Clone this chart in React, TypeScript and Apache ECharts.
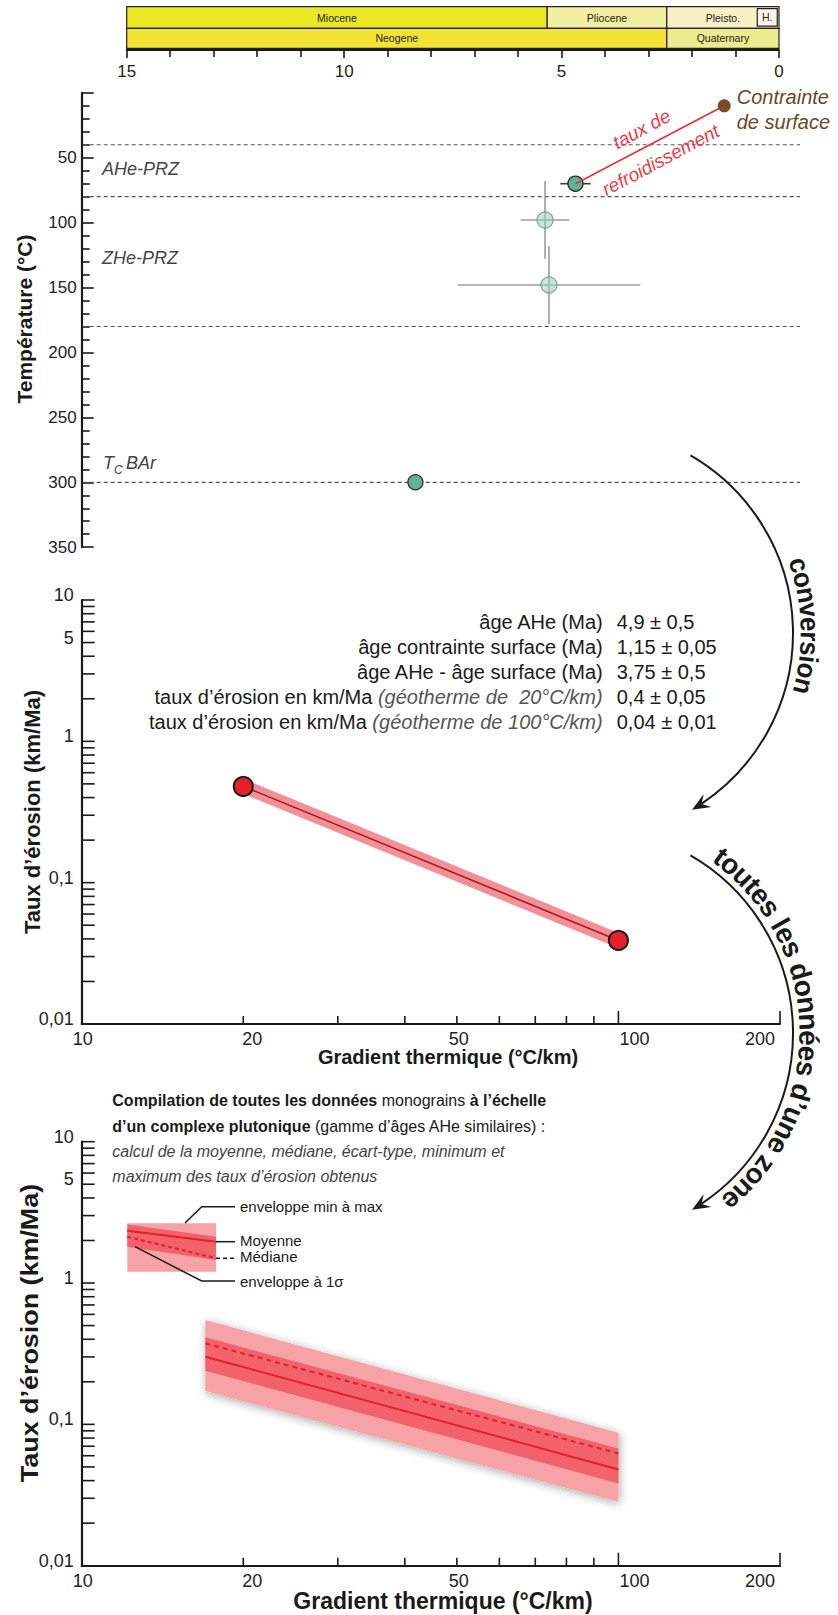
import React, { useEffect, useRef } from 'react';
import * as echarts from 'echarts';

const FONT = '"Liberation Sans", Arial, Helvetica, sans-serif';
const INK = '#1a1a1a';

// ---------- geological timescale (Ma) ----------
const epochNames = ['Miocene', 'Pliocene', 'Pleisto.'];
const epochStarts = [15, 5.33, 2.58];
const epochEnds = [5.33, 2.58, 0];
const periodNames = ['Neogene', 'Quaternary'];
const periodStarts = [15, 2.58];
const periodEnds = [2.58, 0];
const holoceneName = 'H.';
const holoceneStart = 0.5;
const holoceneEnd = 0.04;

// ---------- thermochronology (top panel) ----------
const zoneBoundaries = [40, 80, 180, 300];
const sampleAges = [4.68, 5.38, 5.29, 8.36];
const sampleTemps = [70, 98, 148, 300];
const sampleAgeErr = [0.35, 0.56, 2.1, 0];
const sampleTempErr = [0, 30, 30, 0];
const surfaceAge = 1.26;
const surfaceTemp = 10;

// ---------- single sample conversion (middle panel) ----------
const gradients = [20, 100];
const erosionRates = [0.48, 0.039];
const tableLabels = ['âge AHe (Ma)', 'âge contrainte surface (Ma)', 'âge AHe - âge surface (Ma)', 'taux d’érosion en km/Ma', 'taux d’érosion en km/Ma'];
const tableNotes = ['', '', '', '(géotherme de  20°C/km)', '(géotherme de 100°C/km)'];
const tableValues = ['4,9 ± 0,5', '1,15 ± 0,05', '3,75 ± 0,5', '0,4 ± 0,05', '0,04 ± 0,01'];

// ---------- compilation (bottom panel) ----------
const envGradients = [17, 100];
const minRates = [0.172, 0.0283];
const maxRates = [0.547, 0.0872];
const sigmaLowRates = [0.2395, 0.0382];
const sigmaHighRates = [0.413, 0.0676];
const meanRates = [0.301, 0.048];
const medianRates = [0.374, 0.0623];

// ---------- axes ----------
const ageMin = 0, ageMax = 15, ageStep = 5;
const tempMin = 0, tempMax = 350, tempStep = 50;
const gradientMin = 10, gradientMax = 200;
const rateMin = 0.01, rateMax = 10;
const gradientTicksShort = [20, 30, 40, 50, 60, 70, 80, 90];
const gradientTicksLong = [100, 200];
const gradientTickLabels = [10, 20, 50, 100, 200];
const rateTicks = [0.02, 0.03, 0.04, 0.05, 0.06, 0.07, 0.08, 0.09, 0.1, 0.2, 0.3, 0.4, 0.5, 0.6, 0.7, 0.8, 0.9, 1, 2, 3, 4, 5, 6, 7, 8, 9, 10];
const rateTickLabels = [0.01, 0.1, 1, 5, 10];

// ---------- styles ----------
const GRADIENT_LABEL_SHIFT: Record<number, number> = { 10: 1, 20: 9, 50: 2, 100: 16, 200: -20 };
const EPOCH_COLORS = ['#ebe723', '#f3efa2', '#fbf0c4'];
const PERIOD_COLORS = ['#f5e334', '#eeea8e'];
const HOLO_COLOR = '#fdf6e8';
const SAMPLE_FILL = ['#5db394', 'rgba(150,210,185,0.55)', 'rgba(150,210,185,0.55)', '#5db394'];
const SAMPLE_STROKE = ['#2b2b2b', 'rgba(120,150,135,0.8)', 'rgba(120,150,135,0.8)', '#2b2b2b'];
const ERR_COLOR = ['#3a3a3a', '#9c9c9c', '#9c9c9c', '#3a3a3a'];

const fmtRate = (v: number) => String(v).replace('.', ',');

function logTickSeries(idx: number, labelSize: number) {
  const xVals = [gradientMin, ...gradientTicksShort, ...gradientTicksLong];
  const yVals = [rateMin, ...rateTicks];
  return [
    {
      type: 'custom', xAxisIndex: idx, yAxisIndex: idx, silent: true, z: 10,
      data: xVals.map(v => [v, rateMin]),
      encode: { x: 0, y: 1 },
      renderItem: (params: any, api: any) => {
        const v = api.value(0);
        const p = api.coord([v, rateMin]);
        const children: any[] = [];
        const len = gradientTicksLong.includes(v) ? 13 : gradientTicksShort.includes(v) ? 8 : 0;
        if (len) children.push({ type: 'line', shape: { x1: p[0], y1: p[1], x2: p[0], y2: p[1] - len }, style: { stroke: INK, lineWidth: 1.6 } });
        if (gradientTickLabels.includes(v)) children.push({ type: 'text', x: p[0] + (GRADIENT_LABEL_SHIFT[v] || 0), y: p[1] + 15, style: { text: String(v), fill: '#222', fontSize: labelSize, fontFamily: FONT, align: 'center', verticalAlign: 'middle' } });
        return { type: 'group', children };
      },
    },
    {
      type: 'custom', xAxisIndex: idx, yAxisIndex: idx, silent: true, z: 10,
      data: yVals.map(v => [gradientMin, v]),
      encode: { x: 0, y: 1 },
      renderItem: (params: any, api: any) => {
        const v = api.value(1);
        const p = api.coord([gradientMin, v]);
        const children: any[] = [];
        if (v !== rateMin) children.push({ type: 'line', shape: { x1: p[0], y1: p[1], x2: p[0] + 13, y2: p[1] }, style: { stroke: INK, lineWidth: 1.6 } });
        if (rateTickLabels.includes(v)) children.push({ type: 'text', x: p[0] - 8, y: p[1] - 5, style: { text: fmtRate(v), fill: '#222', fontSize: labelSize, fontFamily: FONT, align: 'right', verticalAlign: 'middle' } });
        return { type: 'group', children };
      },
    },
  ];
}

function logAxis(idx: number, min: number, max: number) {
  return {
    gridIndex: idx, type: 'log', logBase: 10, min, max,
    axisLine: { show: true, onZero: false, lineStyle: { color: INK, width: 2.2 } },
    axisTick: { show: false }, axisLabel: { show: false }, splitLine: { show: false },
  };
}

function arcText(text: string, cx: number, cy: number, r: number, centerDeg: number, fontSize: number, scaleX: number) {
  const ctx = document.createElement('canvas').getContext('2d')!;
  ctx.font = `bold ${fontSize}px "Liberation Sans", Arial, sans-serif`;
  const chars = Array.from(text);
  const widths = chars.map(ch => ctx.measureText(ch).width * scaleX);
  const total = widths.reduce((a, b) => a + b, 0);
  let th = (centerDeg * Math.PI) / 180 - total / 2 / r;
  return chars.map((ch, i) => {
    const mid = th + widths[i] / 2 / r;
    th += widths[i] / r;
    return {
      type: 'text', z: 60, x: cx + r * Math.cos(mid), y: cy + r * Math.sin(mid),
      rotation: -(mid + Math.PI / 2), scaleX,
      style: { text: ch, fontSize, fontWeight: 'bold', fontFamily: FONT, fill: INK, align: 'center', verticalAlign: 'middle' },
    };
  });
}

function arrowArc(cx: number, cy: number, r: number, startDeg: number, tipDeg: number) {
  const th = (tipDeg * Math.PI) / 180;
  const tip = [cx + r * Math.cos(th), cy + r * Math.sin(th)];
  const d = [-Math.sin(th), Math.cos(th)];
  const n = [-d[1], d[0]];
  const L = 18, Wd = 7.5, notch = 11;
  const back = [tip[0] - L * d[0], tip[1] - L * d[1]];
  const pts = [
    tip,
    [back[0] + Wd * n[0], back[1] + Wd * n[1]],
    [tip[0] - notch * d[0], tip[1] - notch * d[1]],
    [back[0] - Wd * n[0], back[1] - Wd * n[1]],
  ];
  return [
    { type: 'arc', z: 60, shape: { cx, cy, r, startAngle: (startDeg * Math.PI) / 180, endAngle: th - notch / r, clockwise: true }, style: { stroke: INK, lineWidth: 2, fill: null } },
    { type: 'polygon', z: 60, shape: { points: pts }, style: { fill: INK } },
  ];
}

function txt(x: number, y: number, text: string, o: any = {}, extra: any = {}) {
  return { type: 'text', z: 50, x, y, ...extra, style: { text, fontFamily: FONT, fill: INK, fontSize: 16, align: 'left', verticalAlign: 'middle', ...o } };
}

function buildOption() {
  const cells = [
    ...epochNames.map((name, i) => ({ name, start: epochStarts[i], end: epochEnds[i], row: 0, color: EPOCH_COLORS[i] })),
    ...periodNames.map((name, i) => ({ name, start: periodStarts[i], end: periodEnds[i], row: 1, color: PERIOD_COLORS[i] })),
    { name: holoceneName, start: holoceneStart, end: holoceneEnd, row: 2, color: HOLO_COLOR },
  ];
  const ROWS = [{ y: 6.7, h: 21.6 }, { y: 28.3, h: 20 }, { y: 8.6, h: 17.6 }];

  const series: any[] = [
    {
      type: 'custom', xAxisIndex: 0, yAxisIndex: 0, silent: true, z: 3,
      data: cells.map(c => [c.start, c.end, tempMin]),
      encode: { x: [0, 1], y: 2 },
      renderItem: (params: any, api: any) => {
        const c = cells[params.dataIndex];
        const x0 = api.coord([api.value(0), tempMin])[0];
        const x1 = api.coord([api.value(1), tempMin])[0];
        const row = ROWS[c.row];
        return {
          type: 'group',
          children: [
            { type: 'rect', shape: { x: Math.min(x0, x1), y: row.y, width: Math.abs(x1 - x0), height: row.h }, style: { fill: c.color, stroke: '#222', lineWidth: 1.2 } },
            { type: 'text', x: (x0 + x1) / 2, y: row.y + row.h / 2, style: { text: c.name, fontSize: 10.5, fontFamily: FONT, fill: '#222', align: 'center', verticalAlign: 'middle' } },
          ],
        };
      },
    },
    {
      type: 'custom', xAxisIndex: 0, yAxisIndex: 0, silent: true, z: 2,
      data: zoneBoundaries.map(t => [ageMin, t]),
      encode: { x: 0, y: 1 },
      renderItem: (params: any, api: any) => {
        const y = api.coord([ageMin, api.value(1)])[1];
        const cs = params.coordSys;
        return { type: 'line', shape: { x1: cs.x - 44, y1: y, x2: cs.x + cs.width + 21, y2: y }, style: { stroke: '#555', lineWidth: 1.2, lineDash: [4, 3] } };
      },
    },
    {
      type: 'custom', xAxisIndex: 0, yAxisIndex: 0, silent: true, z: 3,
      data: sampleAges.map((a, i) => [a, sampleTemps[i], sampleAgeErr[i], sampleTempErr[i]]),
      encode: { x: 0, y: 1 },
      renderItem: (params: any, api: any) => {
        const a = api.value(0), t = api.value(1), ea = api.value(2), et = api.value(3);
        const stroke = ERR_COLOR[params.dataIndex];
        const children: any[] = [];
        if (ea > 0) {
          const p0 = api.coord([a - ea, t]), p1 = api.coord([a + ea, t]);
          children.push({ type: 'line', shape: { x1: p0[0], y1: p0[1], x2: p1[0], y2: p1[1] }, style: { stroke, lineWidth: 1.6 } });
        }
        if (et > 0) {
          const p0 = api.coord([a, t - et]), p1 = api.coord([a, t + et]);
          children.push({ type: 'line', shape: { x1: p0[0], y1: p0[1], x2: p1[0], y2: p1[1] }, style: { stroke, lineWidth: 1.6 } });
        }
        return { type: 'group', children };
      },
    },
    {
      type: 'scatter', xAxisIndex: 0, yAxisIndex: 0, silent: true, z: 4, symbol: 'circle',
      data: sampleAges.map((a, i) => ({
        value: [a, sampleTemps[i]], symbolSize: i === 1 || i === 2 ? 16 : 15,
        itemStyle: { color: SAMPLE_FILL[i], borderColor: SAMPLE_STROKE[i], borderWidth: 1.3, opacity: 1 },
      })),
    },
    {
      type: 'line', xAxisIndex: 0, yAxisIndex: 0, silent: true, z: 5, symbol: 'none',
      data: [[sampleAges[0], sampleTemps[0]], [surfaceAge, surfaceTemp]],
      lineStyle: { color: '#ec2d35', width: 1.6 },
    },
    {
      type: 'scatter', xAxisIndex: 0, yAxisIndex: 0, silent: true, z: 6, symbol: 'circle', symbolSize: 13,
      data: [[surfaceAge, surfaceTemp]], itemStyle: { color: '#7b4a26', opacity: 1 },
    },
    ...logTickSeries(1, 18),
    {
      type: 'line', xAxisIndex: 1, yAxisIndex: 1, silent: true, z: 3, symbol: 'none',
      data: gradients.map((g, i) => [g, erosionRates[i]]),
      lineStyle: { color: 'rgba(238,100,110,0.72)', width: 14, cap: 'butt' },
    },
    {
      type: 'line', xAxisIndex: 1, yAxisIndex: 1, silent: true, z: 4, symbol: 'none',
      data: gradients.map((g, i) => [g, erosionRates[i]]),
      lineStyle: { color: '#a8182a', width: 1.5 },
    },
    {
      type: 'scatter', xAxisIndex: 1, yAxisIndex: 1, silent: true, z: 5, symbol: 'circle', symbolSize: 19,
      data: gradients.map((g, i) => [g, erosionRates[i]]),
      itemStyle: { color: '#e5202a', borderColor: '#1c1c1c', borderWidth: 2, opacity: 1 },
    },
    ...logTickSeries(2, 18),
    {
      type: 'custom', xAxisIndex: 2, yAxisIndex: 2, silent: true, z: 2,
      data: [
        [envGradients[0], envGradients[1], minRates[0], maxRates[0], minRates[1], maxRates[1], 0],
        [envGradients[0], envGradients[1], sigmaLowRates[0], sigmaHighRates[0], sigmaLowRates[1], sigmaHighRates[1], 1],
      ],
      encode: { x: [0, 1], y: [2, 3, 4, 5] },
      renderItem: (params: any, api: any) => {
        const x0 = api.value(0), x1 = api.value(1);
        const pts = [api.coord([x0, api.value(3)]), api.coord([x1, api.value(5)]), api.coord([x1, api.value(4)]), api.coord([x0, api.value(2)])];
        const outer = api.value(6) === 0;
        return {
          type: 'polygon', shape: { points: pts },
          style: outer
            ? { fill: '#f7a2a6', shadowBlur: 10, shadowColor: 'rgba(0,0,0,0.35)', shadowOffsetX: 1, shadowOffsetY: 2 }
            : { fill: '#f1626b' },
        };
      },
    },
    {
      type: 'line', xAxisIndex: 2, yAxisIndex: 2, silent: true, z: 4, symbol: 'none',
      data: envGradients.map((g, i) => [g, meanRates[i]]),
      lineStyle: { color: '#e3202b', width: 2 },
    },
    {
      type: 'line', xAxisIndex: 2, yAxisIndex: 2, silent: true, z: 4, symbol: 'none',
      data: envGradients.map((g, i) => [g, medianRates[i]]),
      lineStyle: { color: '#e3202b', width: 2, type: [5, 4] },
    },
  ];

  const rotTitle = (x: number, y: number, text: string, size: number, scaleX = 1) =>
    ({ type: 'text', z: 50, x, y, rotation: Math.PI / 2, scaleX, style: { text, fontFamily: FONT, fontWeight: 'bold', fontSize: size, fill: INK, align: 'center', verticalAlign: 'middle' } });

  const italicGray = { fontStyle: 'italic', fill: '#444', fontSize: 18 };

  const graphic: any[] = [
    rotTitle(24, 319, 'Température (°C)', 21),
    rotTitle(32, 812, 'Taux d’érosion (km/Ma)', 22),
    rotTitle(30, 1333, 'Taux d’érosion (km/Ma)', 23, 1.17),
    txt(448, 1057, 'Gradient thermique (°C/km)', { fontWeight: 'bold', fontSize: 20, align: 'center' }),
    txt(443, 1601, 'Gradient thermique (°C/km)', { fontWeight: 'bold', fontSize: 23, align: 'center' }),
    txt(102, 169, 'AHe-PRZ', italicGray),
    txt(102, 258, 'ZHe-PRZ', italicGray),
    txt(103, 463, 'T', italicGray),
    txt(114, 470, 'C', { ...italicGray, fontSize: 12 }),
    txt(126, 463, 'BAr', italicGray),
    txt(641.7, 129, 'taux de', { fontStyle: 'italic', fontSize: 19, fill: '#ee3a43', align: 'center' }, { rotation: 0.49 }),
    txt(660.7, 160, 'refroidissement', { fontStyle: 'italic', fontSize: 19, fill: '#ee3a43', align: 'center' }, { rotation: 0.49 }),
    txt(736.7, 97, 'Contrainte', { fontStyle: 'italic', fontSize: 20, fill: '#6e4526' }),
    txt(736.7, 122, 'de surface', { fontStyle: 'italic', fontSize: 20, fill: '#6e4526' }),
    ...tableLabels.map((l, i) => ({
      type: 'text', z: 50, x: 602.7, y: 621.7 + 25 * i,
      style: {
        text: tableNotes[i] ? `{l|${l} }{n|${tableNotes[i]}}` : `{l|${l}}`,
        align: 'right', verticalAlign: 'middle', fontFamily: FONT, fontSize: 20, fill: INK,
        rich: { l: { fontFamily: FONT, fontSize: 20, fill: INK }, n: { fontFamily: FONT, fontSize: 20, fontStyle: 'italic', fill: '#555' } },
      },
    })),
    ...tableValues.map((v, i) => txt(616.7, 621.7 + 25 * i, v, { fontSize: 20 })),
    {
      type: 'text', z: 50, x: 112.3, y: 1100.7,
      style: {
        text: '{b|Compilation de toutes les données}{r| monograins }{b|à l’échelle}', verticalAlign: 'middle', align: 'left',
        rich: { b: { fontFamily: FONT, fontSize: 16, fontWeight: 'bold', fill: INK }, r: { fontFamily: FONT, fontSize: 16, fill: INK } },
      },
    },
    {
      type: 'text', z: 50, x: 112.3, y: 1126.7,
      style: {
        text: '{b|d’un complexe plutonique}{r| (gamme d’âges AHe similaires) :}', verticalAlign: 'middle', align: 'left',
        rich: { b: { fontFamily: FONT, fontSize: 16, fontWeight: 'bold', fill: INK }, r: { fontFamily: FONT, fontSize: 16, fill: INK } },
      },
    },
    txt(112.3, 1151.7, 'calcul de la moyenne, médiane, écart-type, minimum et', { fontStyle: 'italic', fill: '#444' }),
    txt(112.3, 1176.7, 'maximum des taux d’érosion obtenus', { fontStyle: 'italic', fill: '#444' }),
    { type: 'rect', z: 40, shape: { x: 127.3, y: 1223.3, width: 88.7, height: 48.4 }, style: { fill: '#f7a2a6' } },
    { type: 'polygon', z: 41, shape: { points: [[127.3, 1224.5], [216, 1236.7], [216, 1260], [127.3, 1246.7]] }, style: { fill: '#f1626b' } },
    { type: 'line', z: 42, shape: { x1: 127.3, y1: 1230.7, x2: 216, y2: 1241.7 }, style: { stroke: '#e3202b', lineWidth: 2 } },
    { type: 'line', z: 42, shape: { x1: 127.3, y1: 1236.7, x2: 216, y2: 1258.3 }, style: { stroke: '#e3202b', lineWidth: 2, lineDash: [4, 3] } },
    { type: 'polyline', z: 42, shape: { points: [[185, 1223], [201.7, 1206.7], [235, 1206.7]] }, style: { stroke: INK, lineWidth: 1.5, fill: null } },
    { type: 'line', z: 42, shape: { x1: 216, y1: 1241.7, x2: 235, y2: 1241.7 }, style: { stroke: INK, lineWidth: 1.5 } },
    { type: 'line', z: 42, shape: { x1: 216, y1: 1258.3, x2: 235, y2: 1258.3 }, style: { stroke: INK, lineWidth: 1.5, lineDash: [4, 3] } },
    { type: 'polyline', z: 42, shape: { points: [[135, 1246.7], [201.7, 1281], [235, 1281]] }, style: { stroke: INK, lineWidth: 1.5, fill: null } },
    txt(240, 1206.7, 'enveloppe min à max', { fontSize: 15 }),
    txt(240, 1240.5, 'Moyenne', { fontSize: 15 }),
    txt(240, 1256.7, 'Médiane', { fontSize: 15 }),
    txt(240, 1281, 'enveloppe à 1σ', { fontSize: 15 }),
    ...arrowArc(588, 633, 205, -60, 59.5),
    ...arrowArc(588, 1033, 205, -60, 59.5),
    ...arcText('conversion', 588, 633, 222, -1.9, 27, 0.96),
    ...arcText('toutes les données d’une zone', 588, 1033, 221, -1.5, 28, 1),
  ];

  return {
    animation: false,
    textStyle: { fontFamily: FONT },
    grid: [
      { left: 126.7, top: 92.8, width: 652.3, height: 454.4 },
      { left: 81.7, top: 600, width: 698.3, height: 424 },
      { left: 81.7, top: 1141.7, width: 698.3, height: 424 },
    ],
    xAxis: [
      {
        gridIndex: 0, type: 'value', position: 'top', offset: 42.8, inverse: true, min: ageMin, max: ageMax, interval: ageStep,
        axisLine: { show: true, onZero: false, lineStyle: { color: INK, width: 2 } },
        axisTick: { show: true, inside: true, length: 8, lineStyle: { color: INK, width: 1.6 } },
        minorTick: { show: true, splitNumber: 5, length: 7, lineStyle: { color: INK, width: 1.6 } },
        axisLabel: { show: true, inside: true, margin: 13, fontSize: 17, color: '#222', fontFamily: FONT },
        splitLine: { show: false }, minorSplitLine: { show: false },
      },
      logAxis(1, gradientMin, gradientMax),
      logAxis(2, gradientMin, gradientMax),
    ],
    yAxis: [
      {
        gridIndex: 0, type: 'value', inverse: true, min: tempMin, max: tempMax, interval: tempStep, offset: 45,
        axisLine: { show: true, onZero: false, lineStyle: { color: INK, width: 2.2 } },
        axisTick: { show: true, inside: true, length: 12, lineStyle: { color: INK, width: 1.6 } },
        minorTick: { show: true, splitNumber: 5, length: 8, lineStyle: { color: INK, width: 1.6 } },
        axisLabel: { formatter: (v: number) => (v === 0 ? '' : String(v)), margin: 5, fontSize: 17, color: '#222', fontFamily: FONT },
        splitLine: { show: false }, minorSplitLine: { show: false },
      },
      logAxis(1, rateMin, rateMax),
      logAxis(2, rateMin, rateMax),
    ],
    series,
    graphic,
  };
}

export default function App() {
  const ref = useRef<HTMLDivElement>(null);
  useEffect(() => {
    document.body.style.margin = '0';
    const chart = echarts.init(ref.current!, null, { renderer: 'svg' });
    chart.setOption(buildOption() as any);
    return () => chart.dispose();
  }, []);
  return <div ref={ref} style={{ width: 838, height: 1615 }} />;
}
